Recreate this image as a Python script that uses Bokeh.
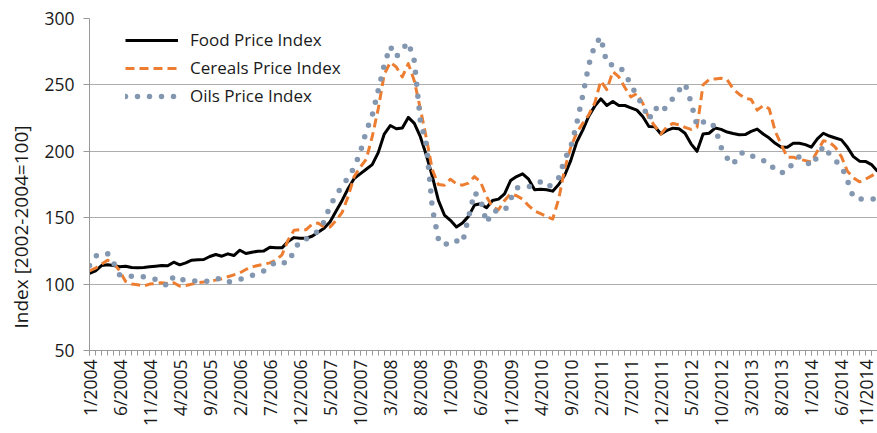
import math
from bokeh.plotting import figure
from bokeh.models import Range1d, FixedTicker, Legend, LegendItem, Title
from bokeh.embed import file_html
from bokeh.resources import INLINE

# month index 0 = 1/2004 ... 131 = 12/2014
tick_labels = ["1/2004", "6/2004", "11/2004", "4/2005", "9/2005", "2/2006", "7/2006",
               "12/2006", "5/2007", "10/2007", "3/2008", "8/2008", "1/2009", "6/2009",
               "11/2009", "4/2010", "9/2010", "2/2011", "7/2011", "12/2011", "5/2012",
               "10/2012", "3/2013", "8/2013", "1/2014", "6/2014", "11/2014"]

food = [108, 110, 114, 114.5, 114, 113, 113.5, 112.5, 112.3, 112.5, 113, 113.5,
        114, 113.8, 116.5, 114.5, 116, 118, 118.3, 118.5, 120.8, 122.3, 121, 122.8,
        121.5, 125.5, 123, 124, 124.8, 125, 127.8, 127.3, 127.3, 132, 135, 134.5,
        134.5, 136, 139, 142, 147, 155, 163, 172, 179.5, 183, 186.5, 190,
        199, 213, 219.4, 217, 217.5, 225.5, 221, 211, 197, 181, 163, 152,
        148, 143, 146, 151, 159.5, 160.5, 157.5, 163, 164, 168, 178, 181,
        183, 179, 171, 171.5, 171, 170, 175, 182, 193, 207, 216, 226.5,
        234, 239.5, 234.5, 237.5, 234.5, 234.5, 232.7, 231, 226, 218.7, 218.5, 213,
        215.7, 217.4, 217, 213.6, 205.6, 200, 213, 213.6, 217.5, 216.5, 214.5, 213.4,
        212.5, 212.6, 215, 216.7, 213, 210, 206, 203.1, 203.1, 206.1, 206.1, 205,
        203.1, 209.4, 213.6, 211.5, 210, 208.6, 203, 196, 192.6, 192.4, 190, 185]

cereals = [110, 112, 115, 118, 116, 110, 102, 100, 99.5, 98.5, 100, 100.5,
           101, 100.5, 101, 98.5, 99, 100, 101, 101.5, 102.5, 103, 104, 105.5,
           107, 108.5, 111, 113, 114, 115, 116, 118, 122, 133, 140.5, 141,
           141, 145, 146, 143, 143, 148, 154, 166, 181, 188, 194, 211,
           232, 258, 267, 263.5, 256, 266, 253, 232, 210, 186, 175, 174.5,
           179, 175.5, 174.5, 176, 181, 177, 166, 158, 156, 163, 168, 166.5,
           164, 159, 155, 153, 151, 149, 164, 187, 203, 214, 221, 227.5,
           236.5, 253, 246.5, 260, 256, 248, 241, 243.5, 236, 225, 219, 213,
           218.5, 221, 220, 218, 216.5, 218, 250, 254, 254.5, 255, 254, 247,
           243, 240, 239, 231, 234.5, 232, 215, 205, 195.6, 195.6, 194, 193,
           192, 200, 208, 207, 203, 196, 185, 180, 177, 179, 181.5, 184]

oils = [114, 121, 123, 123, 116, 107, 106, 106, 106, 105.5, 104.5, 103.5,
        101.5, 98.5, 106, 104, 102.7, 102.3, 102.2, 102.2, 102.2, 104, 104, 101.5,
        102.5, 103.5, 105, 106.5, 108, 110, 113, 117, 116, 116, 125, 133,
        134, 136, 140, 147, 159, 167, 174, 180, 188, 199, 215, 227,
        246, 265, 279, 271, 277, 282, 268, 223, 205, 157, 134, 129,
        133, 132.5, 131, 150, 169, 164, 146, 155, 155, 155, 164, 172.5,
        173, 173, 176, 177, 173, 175, 180, 194, 203, 221, 242, 265,
        280, 286, 266, 265, 264, 259, 250, 242, 234, 224, 233, 229,
        234, 240, 246, 251, 237, 219, 222, 223, 218, 203, 195, 190,
        198, 199.5, 197, 194, 193, 192, 185, 184, 184.5, 192, 196, 193,
        189, 196, 204, 198, 193, 189, 178, 165, 164, 164, 164, 164]

y_title = "Index [2002-2004=100]"

months = list(range(len(food)))
label_ticks = list(range(0, len(food), 5))[:len(tick_labels)]

FONT = "Open Sans"
TXT = "#1a1a1a"

p = figure(width=877, height=433, x_range=Range1d(0, len(food) - 1), y_range=Range1d(50, 300),
           output_backend="svg", toolbar_location=None,
           min_border_left=89, min_border_right=0, min_border_top=18, min_border_bottom=83)
p.outline_line_color = None
p.background_fill_color = "white"
p.border_fill_color = "white"

p.xgrid.grid_line_color = None
p.ygrid.grid_line_color = "#ADADAD"
p.ygrid.grid_line_width = 1

# x axis
p.xaxis.ticker = FixedTicker(ticks=label_ticks, minor_ticks=months)
p.xaxis.major_label_overrides = {t: l for t, l in zip(label_ticks, tick_labels)}
p.xaxis.major_label_orientation = math.pi / 2
p.xaxis.major_label_text_font = FONT
p.xaxis.major_label_text_font_size = "17.5px"
p.xaxis.major_label_text_color = TXT
p.xaxis.major_label_standoff = 4
p.xaxis.axis_line_color = "#999999"
p.xaxis.major_tick_line_color = "#999999"
p.xaxis.minor_tick_line_color = "#999999"
p.xaxis.major_tick_in = 0
p.xaxis.major_tick_out = 5
p.xaxis.minor_tick_in = 0
p.xaxis.minor_tick_out = 5

# y axis
p.yaxis.ticker = FixedTicker(ticks=[50, 100, 150, 200, 250, 300])
p.yaxis.major_label_text_font = FONT
p.yaxis.major_label_text_font_size = "17.5px"
p.yaxis.major_label_text_color = TXT
p.yaxis.major_label_standoff = 9
p.yaxis.axis_line_color = "#999999"
p.yaxis.major_tick_line_color = "#999999"
p.yaxis.minor_tick_line_color = None
p.yaxis.major_tick_in = 0
p.yaxis.major_tick_out = 6

# y-axis title as a side title, shifted down like the reference
ttl = Title(text=y_title, align="left", offset=22, standoff=12, vertical_align="top",
            text_font=FONT, text_font_size="19px", text_font_style="normal",
            text_color=TXT)
p.add_layout(ttl, "left")

r_food = p.line(months, food, line_color="black", line_width=3, line_join="round")
r_cer = p.line(months, cereals, line_color="#ED7D31", line_width=3, line_dash="9 5",
               line_join="round")
r_oil = p.line(months, oils, line_color="#8497B0", line_width=5.5, line_dash="0 12",
               line_cap="round", line_join="round")

legend = Legend(items=[LegendItem(label="Food Price Index", renderers=[r_food]),
                       LegendItem(label="Cereals Price Index", renderers=[r_cer]),
                       LegendItem(label="Oils Price Index", renderers=[r_oil])],
                location=(36, 243))
legend.label_text_font = FONT
legend.label_text_font_size = "17px"
legend.label_text_color = TXT
legend.glyph_width = 53
legend.glyph_height = 20
legend.label_height = 20
legend.label_standoff = 12
legend.spacing = 5
legend.padding = 0
legend.margin = 0
legend.background_fill_alpha = 0
legend.border_line_color = None
p.add_layout(legend)

open("out.html", "w").write(file_html(p, INLINE))
